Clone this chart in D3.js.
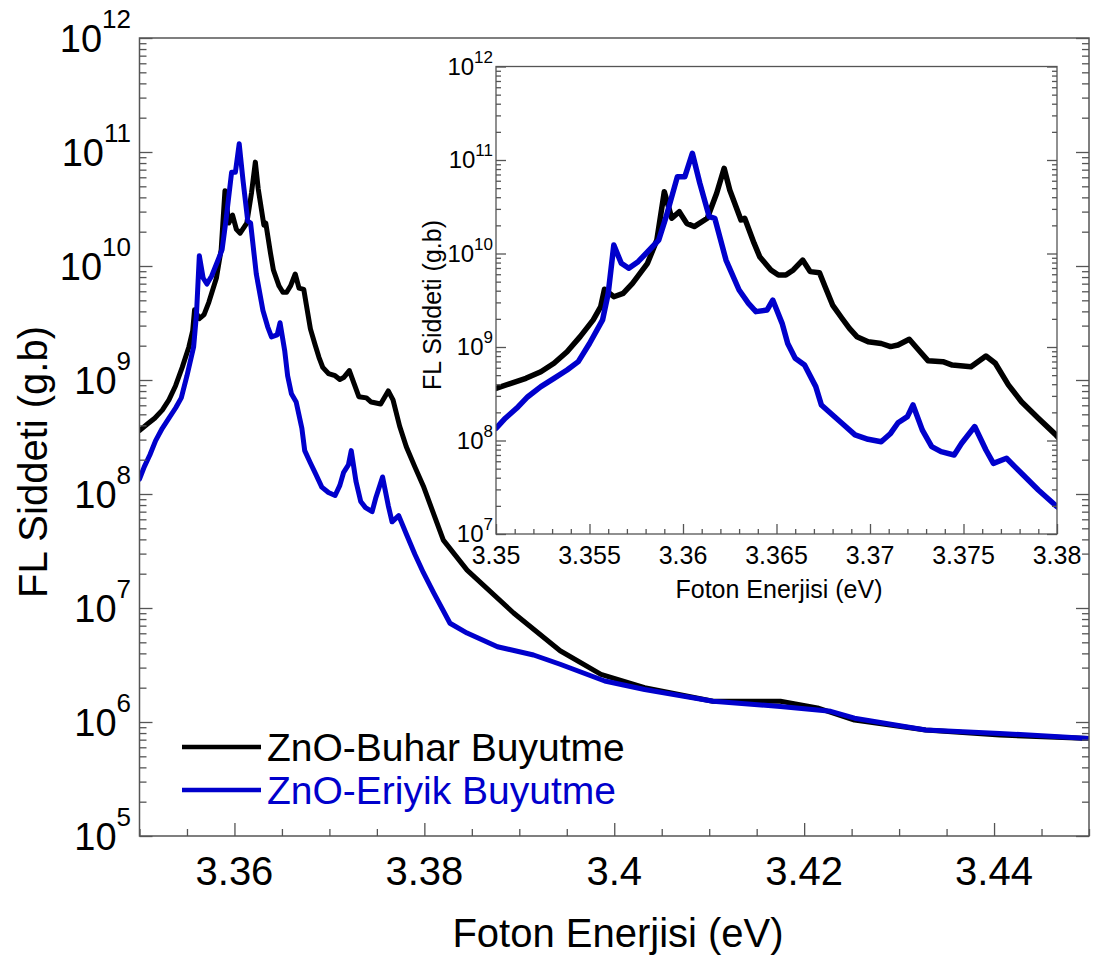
<!DOCTYPE html>
<html>
<head>
<meta charset="utf-8">
<script src="https://cdnjs.cloudflare.com/ajax/libs/d3/7.8.5/d3.min.js"></script>
<style>
  html, body { margin: 0; padding: 0; background: #fff; }
  svg { display: block; }
  text { font-family: "Liberation Sans", Arial, sans-serif; }
</style>
</head>
<body>
<svg id="chart" width="1096" height="959"></svg>
<script>
// ---------------- DATA ----------------
const seriesNames = ["ZnO-Buhar Buyutme", "ZnO-Eriyik Buyutme"];
const seriesColors = ["#000000", "#0000cc"];

const buharEnergy = [3.3500,3.3508,3.3516,3.3524,3.3531,3.3538,3.3545,3.3552,3.3556,3.3558,3.3563,3.3568,3.3573,3.3581,3.3586,3.3590,3.3594,3.3598,3.3602,3.3606,3.3613,3.3618,3.3622,3.3625,3.3631,3.3633,3.3638,3.3641,3.3647,3.3651,3.3655,3.3659,3.3664,3.3668,3.3673,3.3676,3.3680,3.3685,3.3689,3.3693,3.3699,3.3706,3.3711,3.3715,3.3721,3.3726,3.3731,3.3739,3.3744,3.3754,3.3762,3.3767,3.3774,3.3781,3.3790,3.3799,3.3820,3.3845,3.3894,3.3943,3.3986,3.4032,3.4104,3.4175,3.4214,3.4253,3.4328,3.4406,3.4500];
const buharIntensity = [3.61e8,4.09e8,4.62e8,5.44e8,6.70e8,8.91e8,1.29e9,1.95e9,2.70e9,4.14e9,3.45e9,3.75e9,4.80e9,7.85e9,1.39e10,4.58e10,2.38e10,2.80e10,2.10e10,1.94e10,2.38e10,4.41e10,8.15e10,4.78e10,2.28e10,2.38e10,1.29e10,9.25e9,6.67e9,5.89e9,5.89e9,6.67e9,8.51e9,6.40e9,6.24e9,4.42e9,2.81e9,2.03e9,1.58e9,1.29e9,1.14e9,1.09e9,1.01e9,1.05e9,1.21e9,9.29e8,7.14e8,6.97e8,6.41e8,6.15e8,8.02e8,6.70e8,3.93e8,2.60e8,1.73e8,1.17e8,3.94e7,2.15e7,9.04e6,4.22e6,2.62e6,2.00e6,1.52e6,1.52e6,1.33e6,1.04e6,8.51e5,7.69e5,7.16e5];

const eriyikEnergy = [3.3500,3.3505,3.3511,3.3517,3.3524,3.3531,3.3538,3.3544,3.3550,3.3557,3.3560,3.3563,3.3567,3.3571,3.3576,3.3582,3.3587,3.3591,3.3597,3.3601,3.3605,3.3609,3.3614,3.3617,3.3623,3.3630,3.3635,3.3639,3.3645,3.3648,3.3653,3.3656,3.3660,3.3665,3.3671,3.3674,3.3680,3.3685,3.3692,3.3699,3.3706,3.3711,3.3715,3.3720,3.3723,3.3728,3.3733,3.3738,3.3745,3.3749,3.3756,3.3762,3.3766,3.3773,3.3781,3.3790,3.3799,3.3810,3.3827,3.3845,3.3877,3.3915,3.3943,3.3990,3.4032,3.4104,3.4175,3.4228,3.4253,3.4328,3.4406,3.4500];
const eriyikIntensity = [1.35e8,1.73e8,2.21e8,2.94e8,3.77e8,4.62e8,5.68e8,6.97e8,1.09e9,1.95e9,3.75e9,1.23e10,7.85e9,6.95e9,8.18e9,1.09e10,1.39e10,2.48e10,6.64e10,6.64e10,1.18e11,5.64e10,2.48e10,2.38e10,8.51e9,4.07e9,2.93e9,2.39e9,2.49e9,3.18e9,1.79e9,1.09e9,7.57e8,6.41e8,3.77e8,2.40e8,1.87e8,1.53e8,1.15e8,1.03e8,9.70e7,1.19e8,1.55e8,1.80e8,2.40e8,1.29e8,8.59e7,7.59e7,7.00e7,9.33e7,1.41e8,7.91e7,5.70e7,6.46e7,4.46e7,2.96e7,2.04e7,1.35e7,7.35e6,6.03e6,4.57e6,3.87e6,3.21e6,2.29e6,1.93e6,1.52e6,1.37e6,1.24e6,1.08e6,8.51e5,7.94e5,7.16e5];

const mainXTicks = [3.36, 3.38, 3.40, 3.42, 3.44];
const mainXTickLabels = ["3.36", "3.38", "3.4", "3.42", "3.44"];
const mainYExponents = [5, 6, 7, 8, 9, 10, 11, 12];
const insetXTicks = [3.35, 3.355, 3.36, 3.365, 3.37, 3.375, 3.38];
const insetXTickLabels = ["3.35", "3.355", "3.36", "3.365", "3.37", "3.375", "3.38"];
const insetYExponents = [7, 8, 9, 10, 11, 12];

const xTitle = "Foton Enerjisi (eV)";
const yTitle = "FL Siddeti (g.b)";

// ---------------- DRAW ----------------
const svg = d3.select("#chart");
svg.append("rect").attr("width", 1096).attr("height", 959).attr("fill", "#fff");

const series = [
  { name: seriesNames[0], color: seriesColors[0], pts: buharEnergy.map((e, i) => [e, buharIntensity[i]]) },
  { name: seriesNames[1], color: seriesColors[1], pts: eriyikEnergy.map((e, i) => [e, eriyikIntensity[i]]) }
];
const axisColor = "#555";

function minorLogTicks(lo, hi) {
  const t = [];
  for (let e = lo; e < hi; e++) for (let m = 2; m <= 9; m++) t.push(m * Math.pow(10, e));
  return t;
}

function drawPanel(cfg) {
  const g = svg.append("g");
  const x = d3.scaleLinear().domain(cfg.xDomain).range([cfg.left, cfg.right]);
  const y = d3.scaleLog().domain(cfg.yDomain).range([cfg.bottom, cfg.top]);

  g.append("rect").attr("x", cfg.left).attr("y", cfg.top)
    .attr("width", cfg.right - cfg.left).attr("height", cfg.bottom - cfg.top).attr("fill", "#fff");

  const clipId = "clip-" + cfg.id;
  svg.append("defs").append("clipPath").attr("id", clipId)
    .append("rect").attr("x", cfg.left).attr("y", cfg.top - 4)
    .attr("width", cfg.right - cfg.left).attr("height", cfg.bottom - cfg.top + 4);

  const line = d3.line().x(d => x(d[0])).y(d => y(d[1])).curve(d3.curveLinear);
  const lg = g.append("g").attr("clip-path", `url(#${clipId})`);
  series.forEach(s => {
    lg.append("path").datum(s.pts.filter(p => p[0] >= cfg.xDomain[0] - 0.002 && p[0] <= cfg.xDomain[1] + 0.01))
      .attr("d", line).attr("fill", "none").attr("stroke", s.color)
      .attr("stroke-width", cfg.lw).attr("stroke-linejoin", "round").attr("stroke-linecap", "round");
  });

  // Axes with inward ticks
  const yMajor = cfg.yExps.map(e => Math.pow(10, e));
  const yMinor = minorLogTicks(cfg.yExps[0], cfg.yExps[cfg.yExps.length - 1]);
  const mkY = (axisFn, pos, vals, len) => {
    g.append("g").attr("transform", `translate(${pos},0)`)
      .call(axisFn(y).tickValues(vals).tickSize(len).tickFormat(""))
      .call(a => a.select(".domain").remove())
      .call(a => a.selectAll("line").attr("stroke", axisColor).attr("stroke-width", 1.3));
  };
  mkY(d3.axisRight, cfg.left, yMinor, cfg.minor);
  mkY(d3.axisRight, cfg.left, yMajor, cfg.major);
  mkY(d3.axisLeft, cfg.right, yMinor, cfg.minor);
  mkY(d3.axisLeft, cfg.right, yMajor, cfg.major);

  const mkX = (vals, len) => {
    g.append("g").attr("transform", `translate(0,${cfg.bottom})`)
      .call(d3.axisTop(x).tickValues(vals).tickSize(len).tickFormat(""))
      .call(a => a.select(".domain").remove())
      .call(a => a.selectAll("line").attr("stroke", axisColor).attr("stroke-width", 1.3));
  };
  mkX(cfg.xMinor, cfg.minor);
  mkX(cfg.xMajor, cfg.major);

  // frame
  g.append("rect").attr("x", cfg.left).attr("y", cfg.top)
    .attr("width", cfg.right - cfg.left).attr("height", cfg.bottom - cfg.top)
    .attr("fill", "none").attr("stroke", axisColor).attr("stroke-width", cfg.frameW);

  // y tick labels (10^n)
  cfg.yExps.forEach(e => {
    const t = g.append("text").attr("x", cfg.yLabelRight).attr("y", y(Math.pow(10, e)) + cfg.yBaseOff)
      .attr("text-anchor", "end").attr("fill", "#000");
    t.append("tspan").attr("font-size", cfg.yFont).text("10");
    t.append("tspan").attr("font-size", cfg.expFont).attr("dy", cfg.expDy).text(String(e));
  });

  // x tick labels
  cfg.xLabels.forEach((lab, i) => {
    g.append("text").attr("x", x(cfg.xMajorLabeled[i])).attr("y", cfg.xLabelY)
      .attr("text-anchor", "middle").attr("font-size", cfg.xFont).attr("fill", "#000").text(lab);
  });

  // titles
  g.append("text").attr("x", cfg.xTitleX).attr("y", cfg.xTitleY).attr("text-anchor", "middle")
    .attr("font-size", cfg.titleFont).attr("fill", "#000").text(xTitle);
  g.append("text").attr("transform", `translate(${cfg.yTitleX},${cfg.yTitleY}) rotate(-90)`)
    .attr("text-anchor", "middle").attr("font-size", cfg.titleFont).attr("fill", "#000").text(yTitle);
  return { x, y, g };
}

const mainMinorX = d3.range(0, 21).map(i => +(3.35 + i * 0.005).toFixed(3)).filter(v => mainXTicks.every(t => Math.abs(t - v) > 1e-6));
drawPanel({
  id: "main", left: 139.5, right: 1089, top: 38, bottom: 836,
  xDomain: [3.35, 3.45], yDomain: [1e5, 1e12], yExps: mainYExponents,
  lw: 5, major: 13, minor: 7, frameW: 1.5,
  xMajor: mainXTicks, xMinor: mainMinorX, xMajorLabeled: mainXTicks, xLabels: mainXTickLabels,
  yLabelRight: 131, yBaseOff: 14, yFont: 38, expFont: 26, expDy: -24,
  xLabelY: 885, xFont: 40,
  titleFont: 40, xTitleX: 618, xTitleY: 947, yTitleX: 47, yTitleY: 462
});

const insetMinorX = d3.range(0, 31).map(i => +(3.35 + i * 0.001).toFixed(3)).filter(v => insetXTicks.every(t => Math.abs(t - v) > 1e-6));
drawPanel({
  id: "inset", left: 496, right: 1057, top: 66.5, bottom: 534,
  xDomain: [3.35, 3.38], yDomain: [1e7, 1e12], yExps: insetYExponents,
  lw: 5.5, major: 10, minor: 5, frameW: 1.3,
  xMajor: insetXTicks, xMinor: insetMinorX, xMajorLabeled: insetXTicks, xLabels: insetXTickLabels,
  yLabelRight: 493, yBaseOff: 8, yFont: 24, expFont: 17, expDy: -12,
  xLabelY: 564, xFont: 25,
  titleFont: 25, xTitleX: 779, xTitleY: 598, yTitleX: 441, yTitleY: 305
});

// Legend
series.forEach((s, i) => {
  const yy = [747, 790][i];
  svg.append("line").attr("x1", 182).attr("x2", 261).attr("y1", yy).attr("y2", yy)
    .attr("stroke", s.color).attr("stroke-width", 4.5);
  svg.append("text").attr("x", 267).attr("y", yy + 14).attr("font-size", 39)
    .attr("fill", s.color).text(s.name);
});
</script>
</body>
</html>
